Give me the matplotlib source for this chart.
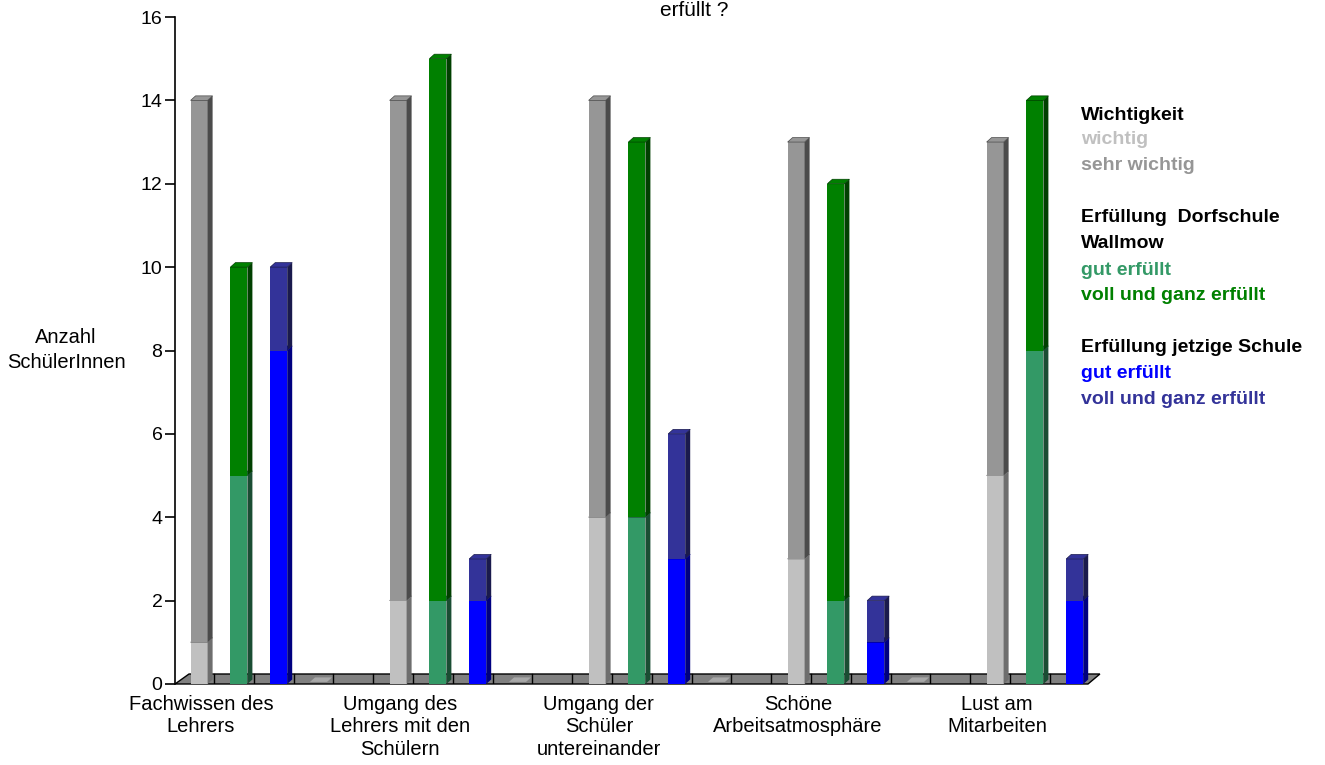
import matplotlib
matplotlib.use('Agg')
from matplotlib import pyplot as plt
from matplotlib.patches import Polygon, Rectangle

plt.rcParams['font.family'] = ['Liberation Sans', 'DejaVu Sans']

categories = ['Fachwissen des\nLehrers', 'Umgang des\nLehrers mit den\nSchülern',
              'Umgang der\nSchüler\nuntereinander', 'Schöne\nArbeitsatmosphäre',
              'Lust am\nMitarbeiten']
wichtig = [1, 2, 4, 3, 5]
sehr_wichtig = [13, 12, 10, 10, 8]
dorf_gut = [5, 2, 4, 2, 8]
dorf_voll = [5, 13, 9, 10, 6]
jetzt_gut = [8, 2, 3, 1, 2]
jetzt_voll = [2, 1, 3, 1, 1]

# (front colour, side colour) per series
c_wichtig = ('#C0C0C0', '#6E6E6E')
c_sehr = ('#969696', '#4B4B4B')
c_dgut = ('#339966', '#1A4D33')
c_dvoll = ('#008000', '#004000')
c_jgut = ('#0000FF', '#000080')
c_jvoll = ('#333399', '#1A1A4D')

W, H = 1325, 765
fig = plt.figure(figsize=(W / 100, H / 100), dpi=100)
slot_px = 39.8
unit_px = 41.7
ax = fig.add_axes([175 / W, (H - 684) / H, 925 / W, 667 / H])
ax.set_xlim(0, 925 / slot_px)
ax.set_ylim(0, 16)

dx = 5 / slot_px
dy = 4.5 / unit_px
bw = 17 / slot_px
off = 15.6 / slot_px


def bar3d(x0, y0, h, cols):
    front, side = cols
    ax.add_patch(Rectangle((x0, y0), bw, h, facecolor=front, lw=0, zorder=3))
    ax.add_patch(Polygon([(x0 + bw, y0), (x0 + bw + dx, y0 + dy), (x0 + bw + dx, y0 + h + dy),
                          (x0 + bw, y0 + h)], closed=True, facecolor=side, lw=0, zorder=3))
    ax.add_patch(Polygon([(x0, y0 + h), (x0 + dx, y0 + h + dy), (x0 + bw + dx, y0 + h + dy),
                          (x0 + bw, y0 + h)], closed=True, facecolor=front, edgecolor=side,
                         lw=0.5, zorder=3))


# floor
fdx = 14 / slot_px
fdy = 10 / unit_px
xmax = (1088 - 175) / slot_px
ax.add_patch(Polygon([(0, 0), (xmax, 0), (xmax + fdx * 0.85, fdy), (fdx, fdy)], closed=True,
                     facecolor='#808080', edgecolor='black', lw=1, zorder=1, clip_on=False))
for k in range(22):
    xk = 0.98 + k
    ax.plot([xk, xk], [0, fdy], color='black', lw=1, zorder=2)

for g in range(len(categories)):
    base = 5 * g + off
    bar3d(base, 0, wichtig[g], c_wichtig)
    bar3d(base, wichtig[g], sehr_wichtig[g], c_sehr)
    bar3d(base + 1, 0, dorf_gut[g], c_dgut)
    bar3d(base + 1, dorf_gut[g], dorf_voll[g], c_dvoll)
    bar3d(base + 2, 0, jetzt_gut[g], c_jgut)
    bar3d(base + 2, jetzt_gut[g], jetzt_voll[g], c_jvoll)
    # zero-height marker of the empty slot
    x3 = base + 3
    ax.add_patch(Polygon([(x3, 0.05), (x3 + dx, 0.05 + dy), (x3 + bw + dx, 0.05 + dy), (x3 + bw, 0.05)],
                         closed=True, facecolor='#A8A8A8', lw=0, zorder=2))

for s in ['top', 'right', 'bottom']:
    ax.spines[s].set_visible(False)
ax.spines['left'].set_linewidth(1.2)
ax.set_yticks(range(0, 17, 2))
ax.tick_params(axis='y', length=7, width=1.2, labelsize=14, pad=2)
ax.set_xticks([5 * g + 0.65 for g in range(len(categories))])
ax.set_xticklabels(categories, fontsize=14.5, linespacing=1.22)
ax.tick_params(axis='x', length=0, pad=8)

fig.text(66 / W, 1 - 350 / H, 'Anzahl\nSchülerInnen', ha='center', va='center', fontsize=14.5,
         linespacing=1.35)
fig.text(694 / W, 1 - 1 / H, 'erfüllt ?', ha='center', va='top', fontsize=15)

legend_lines = [
    ('Wichtigkeit', 'black', 115),
    ('wichtig', '#C0C0C0', 140),
    ('sehr wichtig', '#969696', 165),
    ('Erfüllung  Dorfschule', 'black', 218),
    ('Wallmow', 'black', 244),
    ('gut erfüllt', '#339966', 270),
    ('voll und ganz erfüllt', '#008000', 296),
    ('Erfüllung jetzige Schule', 'black', 348),
    ('gut erfüllt', '#0000FF', 373),
    ('voll und ganz erfüllt', '#333399', 399),
]
for txt, col, y in legend_lines:
    fig.text(1081 / W, 1 - y / H, txt, color=col, fontsize=14, fontweight='bold',
             ha='left', va='center')

fig.savefig('out.png', dpi=100)
